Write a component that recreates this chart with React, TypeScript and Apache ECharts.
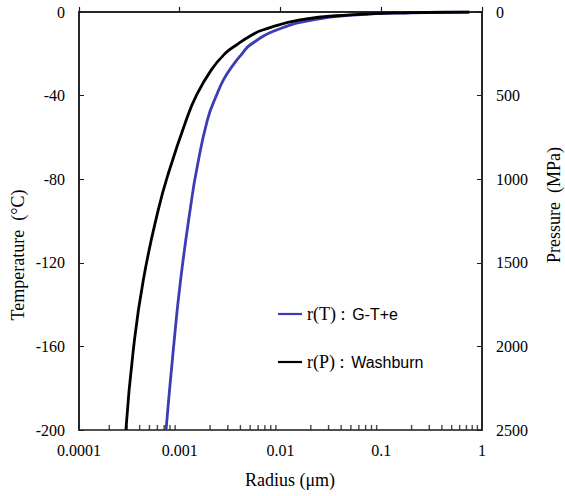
import React, { useEffect, useRef } from "react";
import * as echarts from "echarts";

// Radius (µm) vs Temperature (°C)
const gteRadius = [0.000731, 0.000863, 0.00102, 0.00131, 0.00147, 0.00188, 0.00231, 0.00275, 0.00338, 0.00415, 0.00498, 0.00916, 0.0210, 0.0575, 0.2, 0.75];
const gteTemp = [-200, -161.7, -128.2, -90, -75.6, -51.7, -40, -32, -25.4, -20, -15.8, -8.6, -3.8, -1.4, -0.4, 0];

const washRadius = [0.000292, 0.000346, 0.000435, 0.000612, 0.00079, 0.00116, 0.00146, 0.00205, 0.00280, 0.00365, 0.00520, 0.00665, 0.0156, 0.049, 0.2, 0.75];
const washTemp = [-200, -161.7, -128.2, -94.7, -75.6, -51.7, -40, -27.8, -20, -15.8, -11, -8.6, -3.8, -1.4, -0.3, 0];

const xTickLabels = ["0.0001", "0.001", "0.01", "0.1", "1"];
const minorTickPositions = [
  0.0002, 0.0003, 0.0004, 0.0005, 0.0006, 0.0007, 0.0008, 0.0009,
  0.002, 0.003, 0.004, 0.005, 0.006, 0.007, 0.008, 0.009,
  0.02, 0.03, 0.04, 0.05, 0.06, 0.07, 0.08, 0.09,
  0.2, 0.3, 0.4, 0.5, 0.6, 0.7, 0.8, 0.9,
];

const serif = "'Liberation Serif', 'Times New Roman', serif";
const sans = "'Liberation Sans', Arial, sans-serif";

export default function App() {
  const ref = useRef<HTMLDivElement>(null);
  useEffect(() => {
    document.body.style.margin = "0";
    const chart = echarts.init(ref.current!, null, { renderer: "svg" });
    const axisColor = "#1a1a1a";
    chart.setOption({
      animation: false,
      backgroundColor: "#ffffff",
      grid: {
        left: 79,
        right: 83,
        top: 12,
        bottom: 66,
        show: true,
        borderColor: axisColor,
        borderWidth: 1.5,
        containLabel: false,
      },
      xAxis: {
        type: "log",
        logBase: 10,
        min: 0.0001,
        max: 1,
        axisLine: { show: true, lineStyle: { color: axisColor, width: 1.5 } },
        axisTick: { show: true, inside: true, length: 5, lineStyle: { color: axisColor, width: 1.2 } },
        splitLine: { show: false },
        axisLabel: {
          color: "#000",
          fontFamily: serif,
          fontSize: 16,
          margin: 12,
          formatter: (v: number) => {
            const idx = Math.round(Math.log10(v)) + 4;
            return xTickLabels[idx] ?? String(v);
          },
        },
      },
      yAxis: [
        {
          type: "value",
          min: -200,
          max: 0,
          interval: 40,
          axisLine: { show: true, lineStyle: { color: axisColor, width: 1.5 } },
          axisTick: { show: true, inside: true, length: 5, lineStyle: { color: axisColor } },
          splitLine: { show: false },
          axisLabel: { color: "#000", fontFamily: serif, fontSize: 16, margin: 14 },
        },
        {
          type: "value",
          position: "right",
          min: 0,
          max: 2500,
          interval: 500,
          inverse: true,
          axisLine: { show: true, lineStyle: { color: axisColor, width: 1.5 } },
          axisTick: { show: true, inside: true, length: 5, lineStyle: { color: axisColor } },
          splitLine: { show: false },
          axisLabel: {
            color: "#000",
            fontFamily: serif,
            fontSize: 16,
            margin: 14,
            formatter: (v: number) => String(v),
          },
        },
      ],
      legend: {
        orient: "vertical",
        left: 273,
        top: 300,
        itemWidth: 24,
        itemHeight: 14,
        itemGap: 30,
        data: [
          { name: "r(T)", icon: "path://M0,6 L24,6 L24,8.2 L0,8.2 Z" },
          { name: "r(P)", icon: "path://M0,6 L24,6 L24,8.2 L0,8.2 Z" },
        ],
        formatter: (name: string) =>
          name === "r(T)" ? "{a|r(T) :}  {b|G-T+e}" : "{a|r(P) :}  {b|Washburn}",
        textStyle: {
          rich: {
            a: { fontFamily: serif, fontSize: 18, color: "#000", lineHeight: 20 },
            b: { fontFamily: sans, fontSize: 16, color: "#000", lineHeight: 20 },
          },
        },
      },
      graphic: [
        {
          type: "text",
          x: 18,
          y: 255,
          rotation: Math.PI / 2,
          style: {
            text: "Temperature\u00a0 (°C)",
            fontFamily: serif,
            fontSize: 18,
            fill: "#000",
            textAlign: "center",
            textVerticalAlign: "middle",
          },
        },
        {
          type: "text",
          x: 554,
          y: 205,
          rotation: Math.PI / 2,
          style: {
            text: "Pressure\u00a0 (MPa)",
            fontFamily: serif,
            fontSize: 18,
            fill: "#000",
            textAlign: "center",
            textVerticalAlign: "middle",
          },
        },
        {
          type: "text",
          x: 290,
          y: 480,
          style: {
            text: "Radius (μm)",
            fontFamily: serif,
            fontSize: 18,
            fill: "#000",
            textAlign: "center",
            textVerticalAlign: "middle",
          },
        },
      ],
      series: [
        {
          name: "r(T)",
          type: "line",
          yAxisIndex: 0,
          smooth: 0.5,
          showSymbol: false,
          symbol: "none",
          color: "#3c3cb4",
          lineStyle: { color: "#3c3cb4", width: 2.8 },
          data: gteRadius.map((r, i) => [r, gteTemp[i]]),
        },
        {
          name: "r(P)",
          type: "line",
          yAxisIndex: 0,
          smooth: 0.5,
          showSymbol: false,
          symbol: "none",
          color: "#000000",
          lineStyle: { color: "#000000", width: 2.8 },
          data: washRadius.map((r, i) => [r, washTemp[i]]),
        },
        {
          name: "minorTicks",
          type: "scatter",
          yAxisIndex: 0,
          silent: true,
          symbol: "rect",
          symbolSize: [1.4, 5],
          symbolOffset: [0, -2.5],
          itemStyle: { color: axisColor },
          data: minorTickPositions.map((v) => [v, -200]),
          z: 5,
        },
      ],
    });
    return () => chart.dispose();
  }, []);
  return <div ref={ref} style={{ width: 565, height: 496 }} />;
}
